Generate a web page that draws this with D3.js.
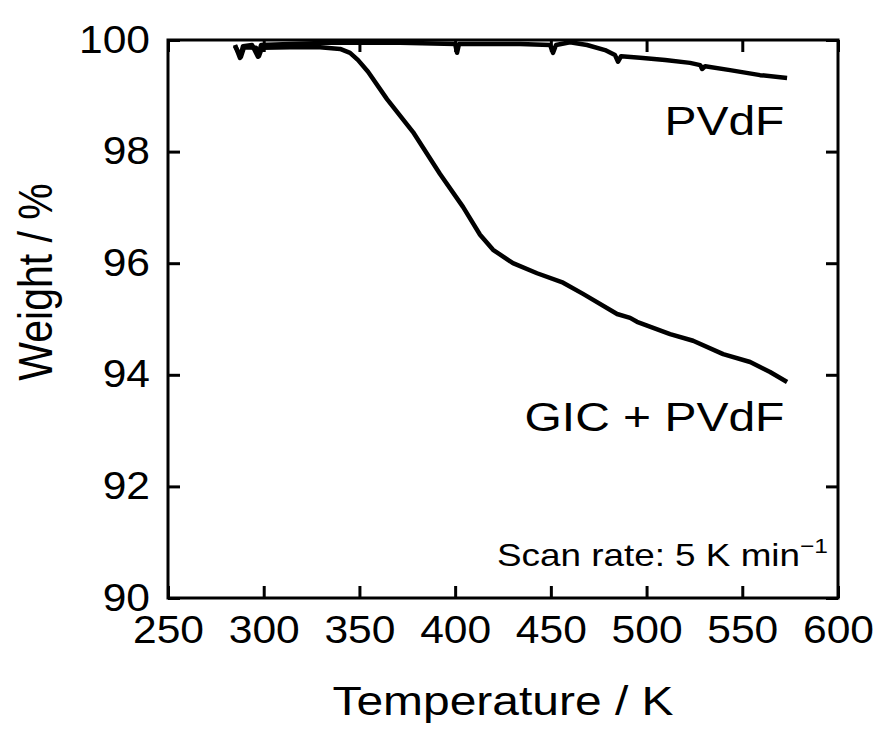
<!DOCTYPE html>
<html>
<head>
<meta charset="utf-8">
<script src="https://d3js.org/d3.v7.min.js"></script>
<style>
    body { margin: 0; background: #fff; }
    svg text { font-family: 'Liberation Sans', Arial, sans-serif; fill: #000; }
</style>
</head>
<body>
<div id="chart"></div>
<script>
// temperature (K) / weight (%)
const gicTemp = [285, 288.1, 289.7, 296, 297.5, 299.1, 313.7, 329.4, 339.9, 345.1, 349.3, 354.5,
    364.4, 378, 392.1, 404.1, 413, 419.8, 430.2, 442.8, 456.4, 466.8, 484.6, 491.4, 495,
    512.3, 524.3, 540, 554.1, 564.5, 573.4]
const gicWeight = [99.89, 99.70, 99.87, 99.86, 99.71, 99.86, 99.87, 99.87, 99.84, 99.77, 99.64, 99.43,
    98.94, 98.35, 97.60, 97.01, 96.51, 96.24, 96.00, 95.82, 95.65, 95.45, 95.09, 95.02, 94.95,
    94.73, 94.61, 94.37, 94.23, 94.05, 93.87]

const pvdfTemp = [285, 287.6, 289.2, 293.9, 297, 298.6, 313.7, 334.6, 371.2, 400, 401, 402,
    433.9, 449.6, 451.1, 452.7, 460, 468.9, 478.3, 483.5, 485.1, 486.7, 496.6, 509.7, 522.7,
    528, 529, 530.6, 543.6, 559.3, 573.4]
const pvdfWeight = [99.91, 99.68, 99.89, 99.91, 99.70, 99.91, 99.93, 99.95, 99.95, 99.93, 99.77, 99.93,
    99.93, 99.91, 99.77, 99.91, 99.96, 99.91, 99.82, 99.73, 99.61, 99.71, 99.68, 99.64, 99.59,
    99.55, 99.48, 99.53, 99.46, 99.37, 99.32]

const xTicks = [250, 300, 350, 400, 450, 500, 550, 600]
const yTicks = [90, 92, 94, 96, 98, 100]

const W = 883, H = 731
const margin = {top: 40, right: 45, bottom: 133, left: 168}
const w = W - margin.left - margin.right
const h = H - margin.top - margin.bottom
const sx = 1.12 // glyphs in the figure are a bit wide

const svg = d3.select('#chart').append('svg')
    .attr('width', W)
    .attr('height', H)
const g = svg.append('g')
    .attr('transform', `translate(${margin.left},${margin.top})`)

const x = d3.scaleLinear().domain([250, 600]).range([0, w])
const y = d3.scaleLinear().domain([90, 100]).range([h, 0])

// axes, ticks pointing inward on all four sides
const bottom = g.append('g')
    .attr('transform', `translate(0,${h})`)
    .call(d3.axisBottom(x).tickValues(xTicks).tickSize(-12).tickPadding(18))
const left = g.append('g')
    .call(d3.axisLeft(y).tickValues(yTicks).tickSize(-12).tickPadding(18))
g.append('g')
    .call(d3.axisTop(x).tickValues(xTicks).tickSize(-12).tickFormat(''))
g.append('g')
    .attr('transform', `translate(${w},0)`)
    .call(d3.axisRight(y).tickValues(yTicks).tickSize(-12).tickFormat(''))

g.selectAll('.domain').remove()
g.selectAll('.tick line').attr('stroke', '#000').attr('stroke-width', 3)
g.selectAll('.tick text')
    .style('font-size', '38px')
    .style('font-family', "'Liberation Sans', Arial, sans-serif")
    .attr('fill', '#000')
bottom.selectAll('.tick text').attr('transform', `scale(${sx},1)`)
left.selectAll('.tick text')
    .attr('x', -18 / sx)
    .attr('transform', `scale(${sx},1)`)

g.append('rect')
    .attr('width', w)
    .attr('height', h)
    .attr('fill', 'none')
    .attr('stroke', '#000')
    .attr('stroke-width', 3)

// curves
const line = d3.line()
    .x(d => x(d[0]))
    .y(d => y(d[1]))

g.append('path')
    .datum(d3.zip(pvdfTemp, pvdfWeight))
    .attr('fill', 'none')
    .attr('stroke', '#000')
    .attr('stroke-width', 4.5)
    .attr('stroke-linejoin', 'round')
    .attr('d', line)

g.append('path')
    .datum(d3.zip(gicTemp, gicWeight))
    .attr('fill', 'none')
    .attr('stroke', '#000')
    .attr('stroke-width', 4.5)
    .attr('stroke-linejoin', 'round')
    .attr('d', line)

// labels
const ts = 1.17
svg.append('text')
    .attr('transform', `translate(${margin.left + w / 2},715) scale(${ts},1)`)
    .attr('text-anchor', 'middle')
    .style('font-size', '41px')
    .text('Temperature / K')

svg.append('text')
    .attr('transform', `translate(52,282) scale(${ts},1) rotate(-90)`)
    .attr('text-anchor', 'middle')
    .style('font-size', '41px')
    .text('Weight / %')

g.append('text')
    .attr('transform', `translate(${x(572)},${y(98.3)}) scale(${ts},1)`)
    .attr('text-anchor', 'end')
    .style('font-size', '41px')
    .text('PVdF')

g.append('text')
    .attr('transform', `translate(${x(572)},${y(93.0)}) scale(${ts},1)`)
    .attr('text-anchor', 'end')
    .style('font-size', '41px')
    .text('GIC + PVdF')

const scan = g.append('text')
    .attr('transform', `translate(${w - 10},${y(90.58)}) scale(${ts},1)`)
    .attr('text-anchor', 'end')
    .style('font-size', '31.5px')
scan.append('tspan').text('Scan rate: 5 K min')
scan.append('tspan')
    .attr('dy', -13)
    .style('font-size', '21px')
    .text('\u22121')
</script>
</body>
</html>
